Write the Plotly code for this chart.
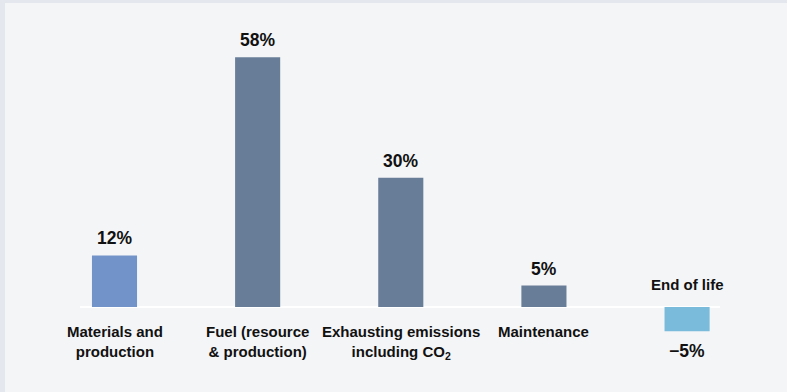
import plotly.graph_objects as go

categories = ["Materials and<br>production", "Fuel (resource<br>& production)",
              "Exhausting emissions<br>including CO<sub>2</sub>", "Maintenance", "End of life"]
values = [12, 58, 30, 5, -5.6]
value_labels = ["12%", "58%", "30%", "5%", "\u22125%"]
colors = ["#7193c9", "#687d98", "#687d98", "#687d98", "#7abbdc"]

xs = list(range(len(categories)))
fig = go.Figure()
fig.add_trace(go.Bar(x=xs, y=values, width=0.315, marker=dict(color=colors, line=dict(width=0)),
                     hoverinfo="skip"))

font_b = "Liberation Sans, Arial, sans-serif"
ann = []
for i, (c, v, t) in enumerate(zip(categories, values, value_labels)):
    if v >= 0:
        ann.append(dict(x=i, y=v, text="<b>%s</b>" % t, showarrow=False, yanchor="middle",
                        yshift=17, font=dict(size=17.5, color="#111111", family=font_b)))
        ann.append(dict(x=i, y=0, text="<b>%s</b>" % c.replace("<br>", "</b><br><b>"), showarrow=False,
                        yanchor="top", yshift=-14, font=dict(size=15, color="#111111", family=font_b)))
    else:
        ann.append(dict(x=i, y=v, text="<b>%s</b>" % t, showarrow=False, yanchor="middle",
                        yshift=-20, font=dict(size=17.5, color="#111111", family=font_b)))
        ann.append(dict(x=i, y=0, text="<b>%s</b>" % c, showarrow=False, yanchor="middle",
                        yshift=23, font=dict(size=15, color="#111111", family=font_b)))

fig.update_layout(
    width=787, height=392,
    margin=dict(l=80, r=67, t=40, b=16),
    paper_bgcolor="#f4f5f7", plot_bgcolor="#f4f5f7",
    showlegend=False,
    xaxis=dict(range=[-0.241, 4.23], showgrid=False, showticklabels=False, zeroline=False,
               showline=False, ticks=""),
    yaxis=dict(range=[-16, 62], showgrid=False, showticklabels=False, zeroline=True,
               zerolinecolor="#ffffff", zerolinewidth=2, showline=False, ticks=""),
    annotations=ann,
    shapes=[
        dict(type="rect", xref="paper", yref="paper", x0=-0.13, x1=1.2, y0=1.110, y1=1.125,
             fillcolor="#e4e7ee", line=dict(width=0), layer="below"),
        dict(type="rect", xref="paper", yref="paper", x0=-0.13, x1=-0.1172, y0=-0.1, y1=1.125,
             fillcolor="#e4e7ee", line=dict(width=0), layer="below"),
    ],
)
fig.write_html("out.html")
